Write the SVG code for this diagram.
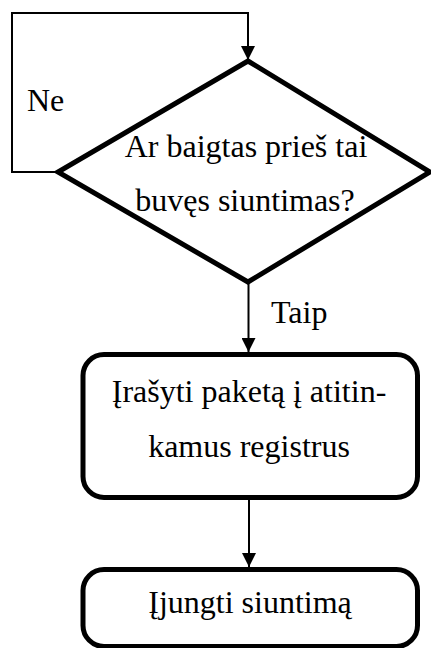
<svg xmlns="http://www.w3.org/2000/svg" width="431" height="648" viewBox="0 0 431 648">
  <style>
    .shape { fill: #ffffff; stroke: #000000; stroke-width: 5; stroke-linejoin: miter; }
    .box { fill: #ffffff; stroke: #000000; stroke-width: 5; }
    .edge { fill: none; stroke: #000000; stroke-width: 2; }
    .label { font-family: "Liberation Serif", "Times New Roman", serif; font-size: 32px; fill: #000000; }
    .mid { text-anchor: middle; }
  </style>
  <defs>
    <marker id="arrow" markerWidth="14" markerHeight="14" refX="14" refY="7" orient="auto" markerUnits="userSpaceOnUse">
      <path d="M0,0 L14,7 L0,14 Z" fill="#000000"/>
    </marker>
  </defs>

  <g id="connectors">
    <!-- "Ne" loop back to the top of the decision -->
    <polyline class="edge" points="58,172 12,172 12,13 248,13 248,60" marker-end="url(#arrow)"/>
    <!-- "Taip" branch -->
    <line class="edge" x1="248.5" y1="282" x2="248.5" y2="352" marker-end="url(#arrow)"/>
    <line class="edge" x1="249" y1="498" x2="249" y2="567" marker-end="url(#arrow)"/>
    <text class="label" x="27" y="111">Ne</text>
    <text class="label" x="271" y="323">Taip</text>
  </g>

  <g id="decision">
    <polygon class="shape" points="248,61 430,172 248,282 58,172"/>
    <text class="label mid" x="246" y="157">Ar baigtas prieš tai</text>
    <text class="label mid" x="245" y="211">buvęs siuntimas?</text>
  </g>

  <g id="write-packet">
    <rect class="box" x="83" y="354.5" width="334.5" height="143" rx="21" ry="21"/>
    <text class="label mid" x="249" y="402">Įrašyti paketą į atitin-</text>
    <text class="label mid" x="249" y="457">kamus registrus</text>
  </g>

  <g id="enable-send">
    <rect class="box" x="83" y="569.5" width="334.5" height="77" rx="21" ry="21"/>
    <text class="label mid" x="250" y="613">Įjungti siuntimą</text>
  </g>
</svg>
